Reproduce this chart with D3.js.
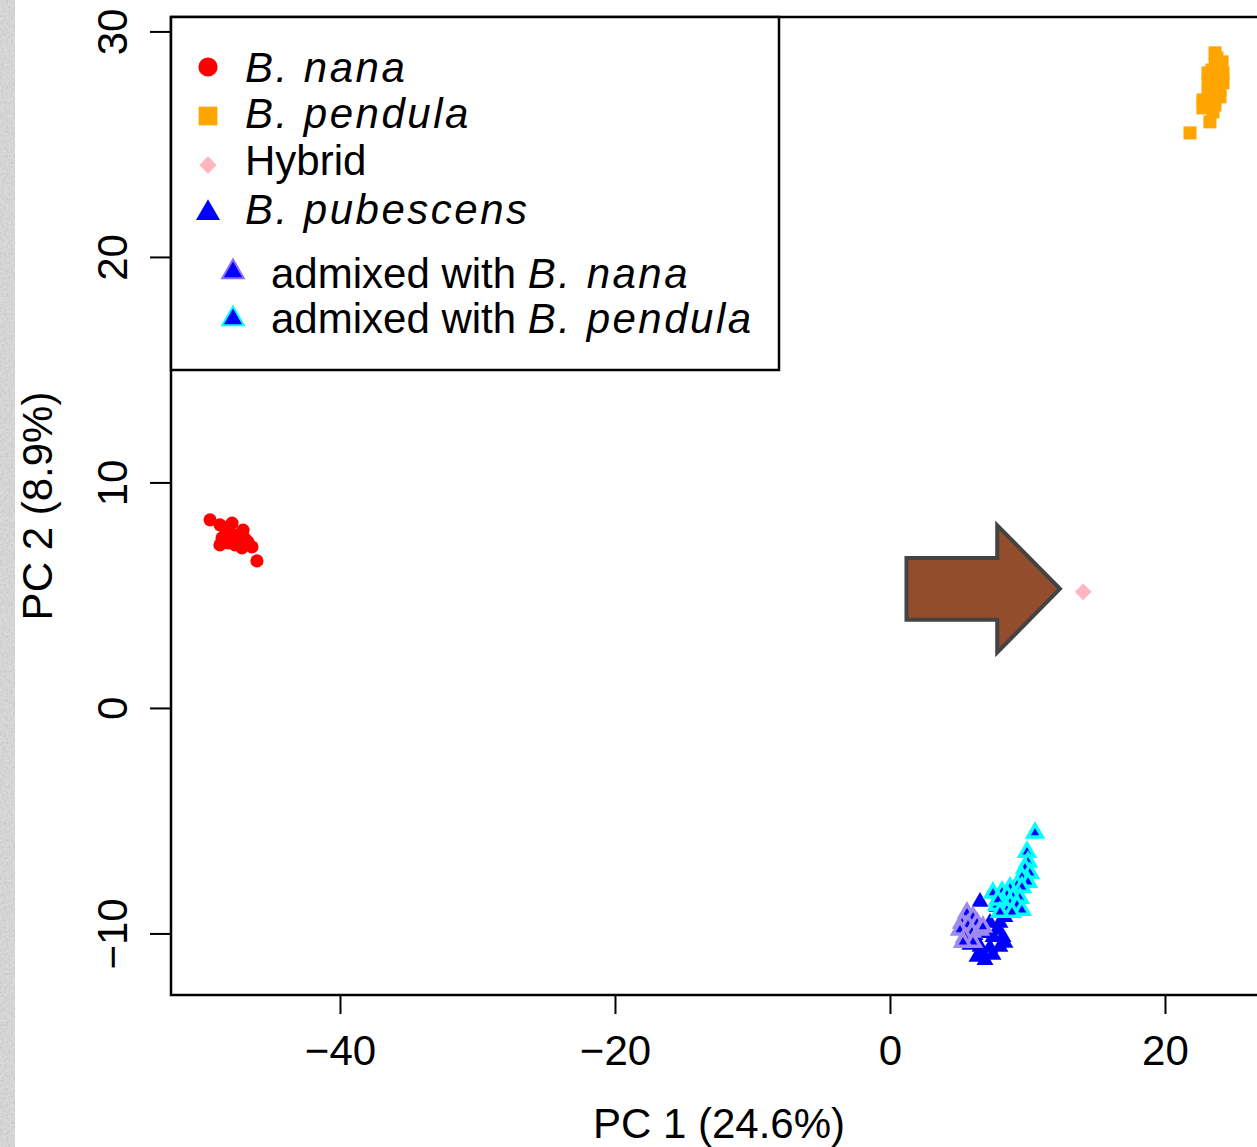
<!DOCTYPE html>
<meta charset="utf-8">
<script src="https://d3js.org/d3.v7.min.js"></script>
<style>
  body { margin: 0; background: #fff; }
  text { font-family: "Liberation Sans", Arial, sans-serif; fill: #000; }
</style>
<body>
<div id="my_dataviz"></div>
<script>

// PCA scores (PC1, PC2)
var nanaPC1 = [-49.45, -48.73, -48.36, -47.85, -47.05, -48.58, -48.15, -47.42, -46.69, -47.64, -47.13, -46.40, -48.73, -46.04, -48.15, -47.42, -48.0, -46.9]
var nanaPC2 = [8.34, 8.12, 7.98, 8.20, 7.89, 7.54, 7.58, 7.67, 7.36, 7.23, 7.10, 7.14, 7.23, 6.52, 7.32, 7.45, 7.8, 7.5]

var pendulaPC1 = [21.82, 23.27, 22.76, 22.76, 23.64, 24.0, 23.13, 23.13, 23.64, 24.15, 24.22, 24.22, 24.0, 23.42, 23.64, 23.85, 23.42, 23.13, 23.78, 23.49]
var pendulaPC2 = [25.50, 25.99, 26.61, 26.96, 26.74, 27.10, 27.76, 28.16, 29.05, 28.65, 28.16, 27.72, 27.41, 28.29, 28.51, 27.84, 27.54, 27.27, 28.82, 26.43]

var hybridPC1 = [14.05]
var hybridPC2 = [5.15]

var pubescensPC1 = [6.55, 7.78, 8.36, 8.0, 7.27, 7.85, 8.22, 7.49, 7.05, 8.0, 7.27, 6.69, 6.33, 6.91, 7.49, 6.55, 8.36, 5.82, 6.18]
var pubescensPC2 = [-8.60, -8.82, -9.27, -9.53, -9.53, -9.84, -10.16, -10.16, -9.98, -10.60, -10.64, -10.86, -11.04, -11.18, -10.95, -10.60, -10.42, -10.51, -10.07]

var admixNanaPC1 = [5.60, 6.04, 5.24, 5.67, 6.33, 5.09, 5.96, 5.45, 6.55, 6.04, 5.31, 6.76]
var admixNanaPC2 = [-9.09, -9.27, -9.53, -9.62, -9.53, -9.84, -9.93, -10.16, -9.84, -10.38, -10.38, -9.71]

var admixPendulaPC1 = [10.55, 9.96, 10.04, 9.82, 10.18, 9.60, 10.04, 9.24, 9.60, 8.73, 8.15, 8.51, 8.95, 9.45, 7.49, 8.22, 8.73, 9.24, 7.78, 9.60, 8.51, 7.85, 8.87, 8.0]
var admixPendulaPC2 = [-5.54, -6.39, -6.83, -7.10, -7.32, -7.49, -7.72, -7.85, -7.94, -7.98, -8.16, -8.29, -8.38, -8.43, -8.20, -8.60, -8.65, -8.74, -8.74, -8.96, -8.96, -8.51, -9.05, -9.05]

var xTicks = [-40, -20, 0, 20]
var yTicks = [-10, 0, 10, 20, 30]

// arrow pointing at the hybrid (PC units)
var arrowTailX = 1.2, arrowHeadX = 7.8, arrowTipX = 12.36, arrowY = 5.28
var arrowBody = 1.37, arrowHead = 2.82

var W = 1257, H = 1147
var margin = {top: 17, left: 171},
    plotW = 1096,
    plotH = 978

var svg = d3.select("#my_dataviz")
  .append("svg")
    .attr("width", W)
    .attr("height", H)

// textured slide edge on the left
var defs = svg.append("defs")
var f = defs.append("filter").attr("id", "grain")
  .attr("x", 0).attr("y", 0).attr("width", 1).attr("height", 1)
f.append("feTurbulence").attr("type", "fractalNoise").attr("baseFrequency", 0.45).attr("numOctaves", 3).attr("seed", 4)
f.append("feColorMatrix").attr("type", "matrix")
  .attr("values", "0 0 0 0 0.55  0 0 0 0 0.55  0 0 0 0 0.55  1.6 0 0 0 -0.55")
svg.append("rect").attr("x", 0).attr("y", 0).attr("width", 15).attr("height", H).attr("fill", "#dadada")
svg.append("rect").attr("x", 0).attr("y", 0).attr("width", 15).attr("height", H).attr("filter", "url(#grain)")

var x = d3.scaleLinear()
  .domain([-52.29, 27.42])
  .range([margin.left, margin.left + plotW])

var y = d3.scaleLinear()
  .domain([-12.73, 30.64])
  .range([margin.top + plotH, margin.top])

defs.append("clipPath").attr("id", "plotclip")
  .append("rect").attr("x", margin.left).attr("y", margin.top).attr("width", plotW).attr("height", plotH)

var fmt = function(d){ return d < 0 ? "\u2212" + (-d) : d }

// axes
var xAxis = svg.append("g")
  .attr("transform", "translate(0," + (margin.top + plotH) + ")")
  .call(d3.axisBottom(x).tickValues(xTicks).tickSize(19).tickFormat(fmt))
xAxis.select(".domain").remove()
xAxis.selectAll("line").attr("stroke", "#000").attr("stroke-width", 2)
xAxis.selectAll("text")
  .attr("y", 70).attr("dy", null)
  .attr("font-size", 42)
  .attr("font-family", "Liberation Sans, Arial, sans-serif")
  .attr("fill", "#000")

var yAxis = svg.append("g")
  .attr("transform", "translate(" + margin.left + ",0)")
  .call(d3.axisLeft(y).tickValues(yTicks).tickSize(21).tickFormat(fmt))
yAxis.select(".domain").remove()
yAxis.selectAll("line").attr("stroke", "#000").attr("stroke-width", 2)
yAxis.selectAll("text")
  .attr("x", null).attr("dy", null)
  .attr("text-anchor", "middle")
  .attr("transform", "translate(-44,0) rotate(-90)")
  .attr("font-size", 42)
  .attr("font-family", "Liberation Sans, Arial, sans-serif")
  .attr("fill", "#000")

svg.append("text")
  .attr("x", margin.left + plotW / 2)
  .attr("y", 1138)
  .attr("text-anchor", "middle")
  .attr("font-size", 42)
  .text("PC 1 (24.6%)")

svg.append("text")
  .attr("transform", "translate(52," + (margin.top + plotH / 2) + ") rotate(-90)")
  .attr("text-anchor", "middle")
  .attr("font-size", 42)
  .text("PC 2 (8.9%)")

// points
var plot = svg.append("g").attr("clip-path", "url(#plotclip)")

function pts(xs, ys) {
  return xs.map(function(v, i) { return [v, ys[i]] })
}

function drawPoints(data, type, size, fill, stroke, sw, rot) {
  plot.append("g").selectAll("path")
    .data(data)
    .enter().append("path")
      .attr("d", d3.symbol().type(type).size(size))
      .attr("transform", function(d) { return "translate(" + x(d[0]) + "," + y(d[1]) + ")" + (rot ? " rotate(45)" : "") })
      .attr("fill", fill)
      .attr("stroke", stroke || "none")
      .attr("stroke-width", sw || 0)
}

drawPoints(pts(nanaPC1, nanaPC2), d3.symbolCircle, 135, "#ff0000")
drawPoints(pts(pendulaPC1, pendulaPC2), d3.symbolSquare, 170, "#ffa500")
drawPoints(pts(pubescensPC1, pubescensPC2), d3.symbolTriangle, 125, "#0000ff")
drawPoints(pts(admixNanaPC1, admixNanaPC2), d3.symbolTriangle, 90, "#0000ff", "#a08af0", 3.5)
drawPoints(pts(admixPendulaPC1, admixPendulaPC2), d3.symbolTriangle, 90, "#0000ff", "#00ffff", 3.5)
drawPoints(pts(hybridPC1, hybridPC2), d3.symbolSquare, 140, "#ffb6c1", null, 0, true)

// arrow
var arrowPts = [
  [arrowTailX, arrowY + arrowBody], [arrowHeadX, arrowY + arrowBody], [arrowHeadX, arrowY + arrowHead],
  [arrowTipX, arrowY], [arrowHeadX, arrowY - arrowHead], [arrowHeadX, arrowY - arrowBody],
  [arrowTailX, arrowY - arrowBody]
]
svg.append("polygon")
  .attr("points", arrowPts.map(function(p) { return x(p[0]) + "," + y(p[1]) }).join(" "))
  .attr("fill", "#934d2c")
  .attr("stroke", "#434341")
  .attr("stroke-width", 4)
  .attr("stroke-linejoin", "miter")

// plot box
svg.append("rect")
  .attr("x", margin.left).attr("y", margin.top)
  .attr("width", plotW).attr("height", plotH)
  .attr("fill", "none").attr("stroke", "#000").attr("stroke-width", 2.5)

// legend
var legend = svg.append("g")
legend.append("rect")
  .attr("x", margin.left).attr("y", margin.top)
  .attr("width", 608).attr("height", 353)
  .attr("fill", "#fff").attr("stroke", "#000").attr("stroke-width", 2.5)

var legendRows = [
  {sym: d3.symbolCircle, size: 290, fill: "#ff0000", sx: 208, sy: 67, tx: 245, ty: 82, parts: [["B. nana", true]]},
  {sym: d3.symbolSquare, size: 350, fill: "#ffa500", sx: 208, sy: 116, tx: 245, ty: 128, parts: [["B. pendula", true]]},
  {sym: d3.symbolSquare, size: 150, fill: "#ffb6c1", sx: 208, sy: 165, tx: 245, ty: 175, parts: [["Hybrid", false]], rot: true},
  {sym: d3.symbolTriangle, size: 250, fill: "#0000ff", sx: 208, sy: 213, tx: 245, ty: 224, parts: [["B. pubescens", true]]},
  {sym: d3.symbolTriangle, size: 200, fill: "#0000ff", stroke: "#8a6cf0", sx: 233, sy: 272, tx: 271, ty: 288, parts: [["admixed with ", false], ["B. nana", true]]},
  {sym: d3.symbolTriangle, size: 200, fill: "#0000ff", stroke: "#00ffff", sx: 233, sy: 319, tx: 271, ty: 333, parts: [["admixed with ", false], ["B. pendula", true]]}
]

legendRows.forEach(function(r) {
  legend.append("path")
    .attr("d", d3.symbol().type(r.sym).size(r.size))
    .attr("transform", "translate(" + r.sx + "," + r.sy + ")" + (r.rot ? " rotate(45)" : ""))
    .attr("fill", r.fill)
    .attr("stroke", r.stroke || "none")
    .attr("stroke-width", r.stroke ? 2 : 0)
  var t = legend.append("text")
    .attr("x", r.tx).attr("y", r.ty)
    .attr("font-size", 42)
    .attr("xml:space", "preserve")
    .style("white-space", "pre")
  r.parts.forEach(function(p) {
    t.append("tspan")
      .attr("font-style", p[1] ? "italic" : "normal")
      .attr("letter-spacing", p[1] ? 2.5 : 0)
      .text(p[0])
  })
})

</script>
</body>
